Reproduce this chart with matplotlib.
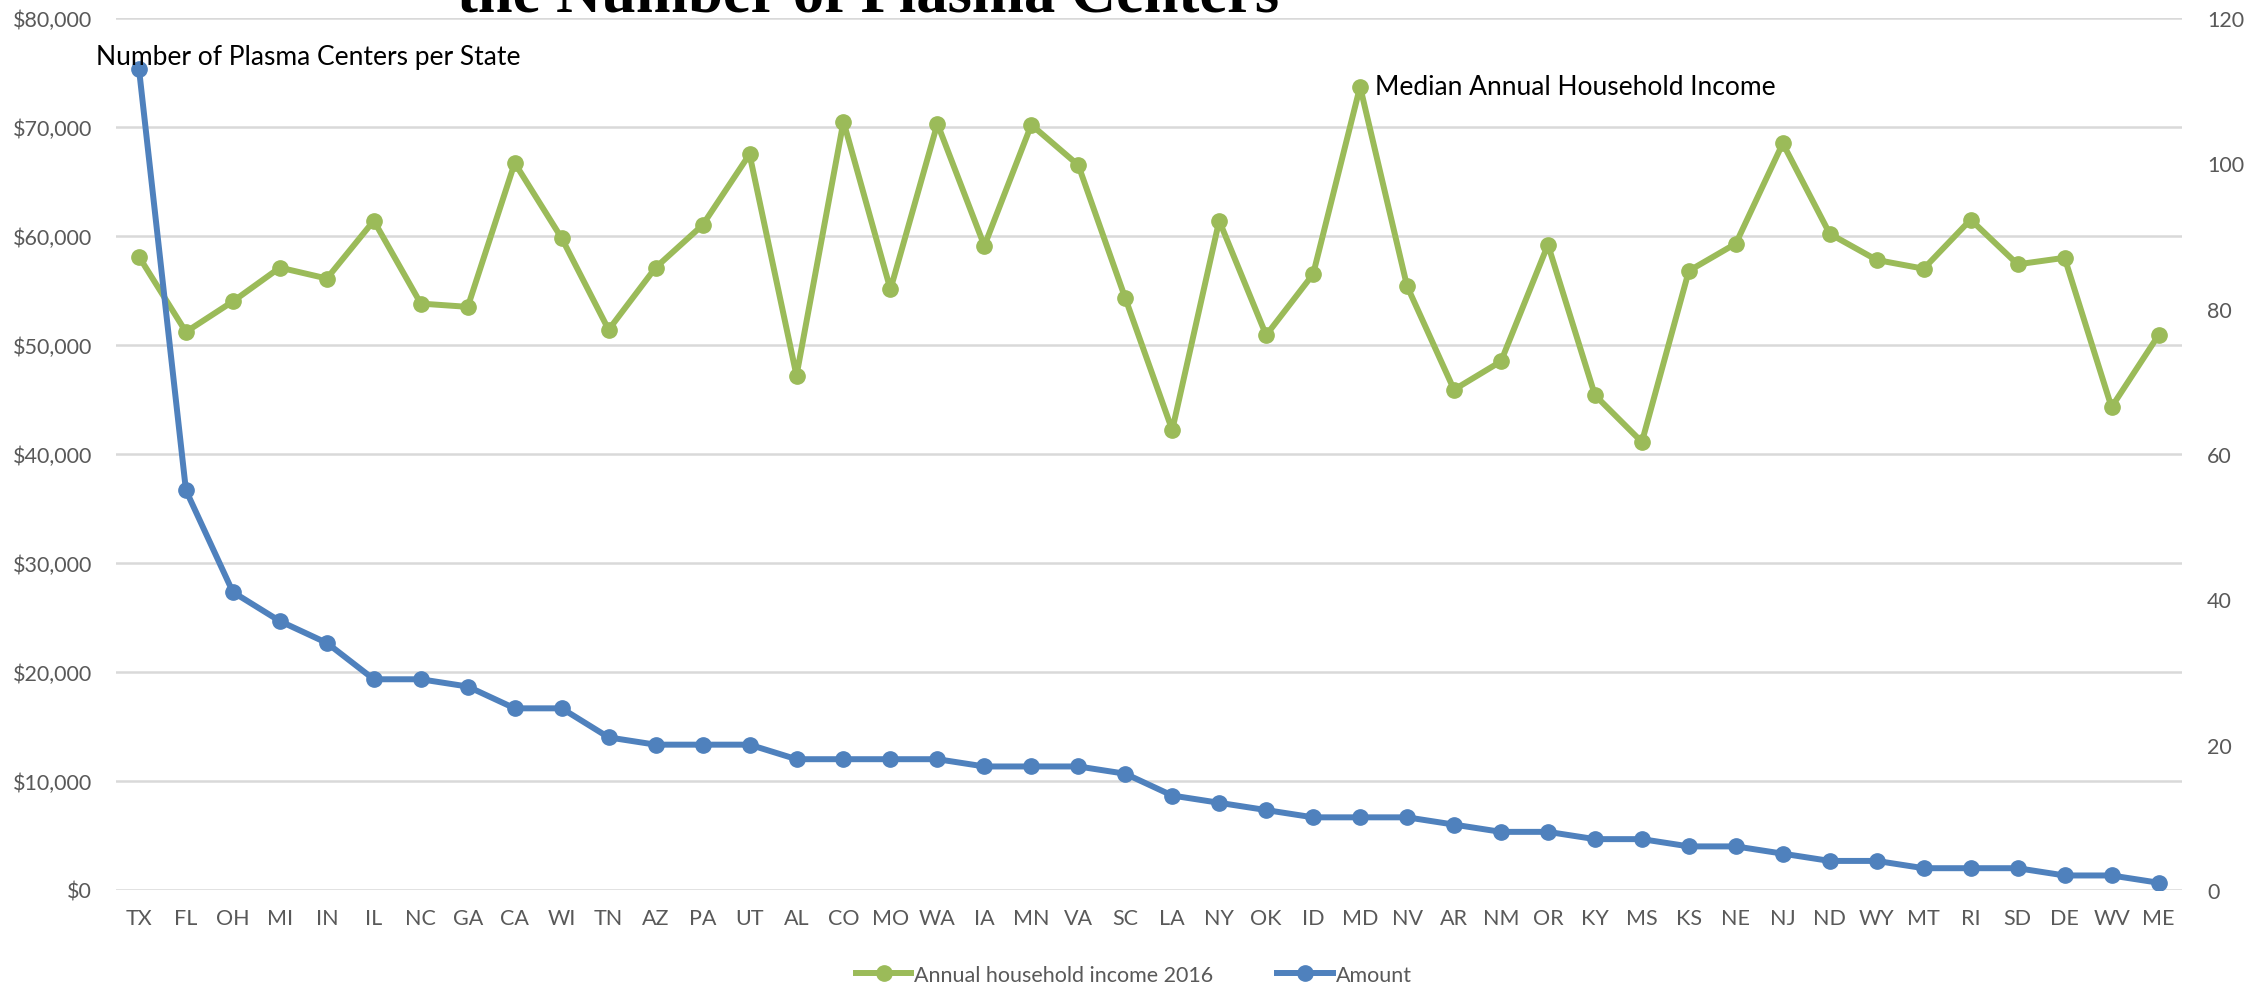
import matplotlib
matplotlib.use("Agg")
import matplotlib.pyplot as plt
from matplotlib.ticker import FuncFormatter, MultipleLocator
from matplotlib.lines import Line2D

states = ["TX", "FL", "OH", "MI", "IN", "IL", "NC", "GA", "CA", "WI", "TN", "AZ", "PA",
          "UT", "AL", "CO", "MO", "WA", "IA", "MN", "VA", "SC", "LA", "NY", "OK", "ID",
          "MD", "NV", "AR", "NM", "OR", "KY", "MS", "KS", "NE", "NJ", "ND", "WY", "MT",
          "RI", "SD", "DE", "WV", "ME"]

income_2016 = [58100, 51200, 54000, 57100, 56100, 61400, 53800, 53500, 66700, 59800,
               51400, 57100, 61000, 67500, 47200, 70500, 55100, 70300, 59100, 70200,
               66500, 54300, 42200, 61400, 50900, 56500, 73700, 55400, 45900, 48500,
               59200, 45400, 41100, 56800, 59300, 68500, 60200, 57800, 57000, 61500,
               57400, 58000, 44300, 50900]

centers = [113, 55, 41, 37, 34, 29, 29, 28, 25, 25, 21, 20, 20, 20, 18, 18, 18, 18, 17,
           17, 17, 16, 13, 12, 11, 10, 10, 10, 9, 8, 8, 7, 7, 6, 6, 5, 4, 4, 3, 3, 3, 2,
           2, 1]

title_text = "the Number of Plasma Centers"
label_centers = "Number of Plasma Centers per State"
label_income = "Median Annual Household Income"
legend_labels = ["Annual household income 2016", "Amount"]

GREEN = "#9BBB59"
BLUE = "#4F81BD"
GREY = "#595959"
GRID = "#D9D9D9"
FONT = "Lato"

plt.rcParams['font.family'] = [FONT, 'DejaVu Sans']

W, H = 2267, 987
fig = plt.figure(figsize=(W / 100, H / 100), dpi=100)
ax = fig.add_axes([115.5 / W, 1 - 891 / H, (2182 - 115.5) / W, (891 - 19) / H])
ax2 = ax.twinx()

LW, MS = 4.3, 11
x = list(range(len(states)))
ax.plot(x, income_2016, color=GREEN, lw=LW, marker='o', ms=MS, zorder=3)
ax2.plot(x, centers, color=BLUE, lw=LW, marker='o', ms=MS, zorder=3)

ax.set_xlim(-0.5, len(states) - 0.5)
ax.set_ylim(0, 80000)
ax2.set_ylim(0, 120)
ax.yaxis.set_major_locator(MultipleLocator(10000))
ax2.yaxis.set_major_locator(MultipleLocator(20))
ax.yaxis.set_major_formatter(FuncFormatter(lambda v, p: f"${v:,.0f}"))
ax.grid(axis='y', color=GRID, lw=1.8)
ax.set_axisbelow(True)
ax.set_xticks(x)
ax.set_xticklabels(states)

for a in (ax, ax2):
    for s in a.spines.values():
        s.set_visible(False)
    a.tick_params(length=0, labelsize=15.5, labelcolor=GREY)
ax.tick_params(axis='x', pad=13)
ax.tick_params(axis='y', pad=17)
ax2.tick_params(axis='y', pad=18)

ax2.annotate(label_centers, xy=(0, centers[0]), xytext=(-31, 9),
             textcoords='offset points', fontsize=19, color='black',
             ha='left', va='center')
imax = income_2016.index(max(income_2016))
ax.annotate(label_income, xy=(imax, income_2016[imax]), xytext=(11, 0),
            textcoords='offset points', fontsize=19, color='black',
            ha='left', va='center')

fig.text(868 / W, 1 - 11 / H, title_text, ha='center', va='baseline',
         fontsize=45, fontweight='bold', family='Liberation Serif', color='black')

handles = [Line2D([], [], color=GREEN, lw=LW, marker='o', ms=MS),
           Line2D([], [], color=BLUE, lw=LW, marker='o', ms=MS)]
fig.legend(handles, legend_labels, loc='center', bbox_to_anchor=(0.5, 1 - 976 / H),
           ncol=2, frameon=False, fontsize=15.5, labelcolor=GREY,
           handlelength=2.6, handletextpad=0.1, columnspacing=3.0)

fig.savefig("out.png", dpi=100)
